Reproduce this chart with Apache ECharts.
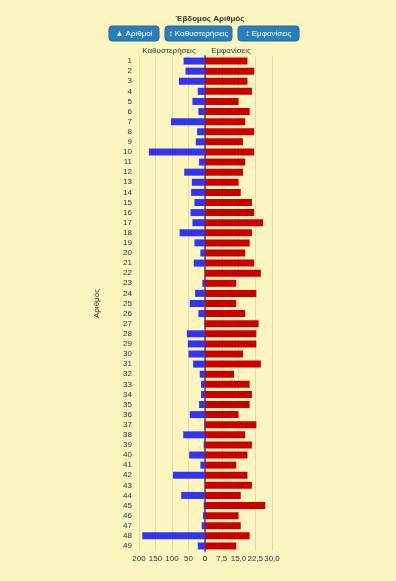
<!DOCTYPE html>
<html lang="el" style="height: 100%">
<head>
<meta charset="UTF-8">
<title>Έβδομος Αριθμός</title>
<script src="https://cdn.jsdelivr.net/npm/echarts@6/dist/echarts.min.js"></script>
</head>
<body style="height: 100%; margin: 0; background: #fcf5bf">
<div id="container" style="width: 396px; height: 581px"></div>
<script>
// data
var numbers = [];
for (var i = 1; i <= 49; i++) numbers.push(String(i));

var delays = [65, 59, 79, 22, 38, 20, 103, 24, 28, 170,
              18, 63, 40, 42, 32, 44, 38, 77, 32, 14,
              34, 0, 8, 30, 46, 20, 1, 55, 52, 50,
              36, 16, 12, 12, 18, 46, 1, 66, 4, 48,
              14, 97, 0, 72, 4, 6, 10, 190, 22];

var appearances = [19, 22, 19, 21, 15, 20, 18, 22, 17, 22,
                   18, 17, 15, 16, 21, 22, 26, 21, 20, 18,
                   22, 25, 14, 23, 14, 18, 24, 23, 23, 17,
                   25, 13, 20, 21, 20, 15, 23, 18, 21, 19,
                   14, 19, 21, 16, 27, 15, 16, 20, 14];

var buttonLabels = ['▲ Αριθμοί', '↕ Καθυστερήσεις', '↕ Εμφανίσεις'];

var font = 'Liberation Sans, Arial, sans-serif';
var gridColor = '#e2d9a6';

var chart = echarts.init(document.getElementById('container'));

// buttons at the top
var btnBoxes = [[109, 50], [165, 67], [238, 61]];
var graphics = [];
btnBoxes.forEach(function (b, i) {
    graphics.push({
        type: 'rect',
        shape: { x: b[0], y: 26, width: b[1], height: 15, r: 3 },
        style: { fill: '#2b7fb8', stroke: '#236a9c', lineWidth: 1 }
    });
    graphics.push({
        type: 'text',
        x: b[0] + b[1] / 2,
        y: 33.5,
        style: {
            text: buttonLabels[i], fill: '#fff', font: '8px ' + font,
            align: 'center', verticalAlign: 'middle'
        }
    });
});

var option = {
    backgroundColor: '#fcf5bf',
    animation: false,
    textStyle: { fontFamily: font },
    title: [{
        text: 'Έβδομος Αριθμός',
        left: 205, top: 10, textAlign: 'center',
        textStyle: { fontSize: 8, fontWeight: 'bold', color: '#333' }
    }, {
        text: 'Καθυστερήσεις',
        left: 164, top: 42, textAlign: 'center',
        textStyle: { fontSize: 8, fontWeight: 'normal', color: '#333' }
    }, {
        text: 'Εμφανίσεις',
        left: 226, top: 42, textAlign: 'center',
        textStyle: { fontSize: 8, fontWeight: 'normal', color: '#333' }
    }],
    graphic: graphics,
    grid: [
        { left: 139, top: 56, width: 66, height: 495 },
        { left: 205, top: 56, width: 67, height: 495 }
    ],
    xAxis: [{
        gridIndex: 0, type: 'value', inverse: true, min: 0, max: 200, interval: 50,
        axisLine: { show: false }, axisTick: { show: false },
        axisLabel: { fontSize: 8, color: '#333', margin: 4 },
        splitLine: { show: true, lineStyle: { color: gridColor } }
    }, {
        gridIndex: 1, type: 'value', min: 0, max: 30, interval: 7.5,
        axisLine: { show: false }, axisTick: { show: false },
        axisLabel: {
            fontSize: 8, color: '#333', margin: 4,
            formatter: function (v) { return v === 0 ? '0' : v.toFixed(1).replace('.', ','); }
        },
        splitLine: { show: true, lineStyle: { color: gridColor } }
    }],
    yAxis: [{
        gridIndex: 0, type: 'category', data: numbers, inverse: true,
        name: 'Αριθμός', nameLocation: 'middle', nameGap: 38,
        nameTextStyle: { fontSize: 8, color: '#333' },
        axisLine: { show: false }, axisTick: { show: false },
        axisLabel: { fontSize: 8, color: '#333', margin: 7, interval: 0 }
    }, {
        gridIndex: 1, type: 'category', data: numbers, inverse: true,
        axisLine: { show: true, lineStyle: { color: '#6e6e6e', width: 2 } },
        axisTick: { show: false }, axisLabel: { show: false }
    }],
    series: [{
        name: 'Καθυστερήσεις', type: 'bar',
        xAxisIndex: 0, yAxisIndex: 0,
        barWidth: 7,
        itemStyle: { color: '#3434ee' },
        data: delays
    }, {
        name: 'Εμφανίσεις', type: 'bar',
        xAxisIndex: 1, yAxisIndex: 1,
        barWidth: 7,
        itemStyle: { color: '#c80000' },
        data: appearances
    }]
};

chart.setOption(option);
</script>
</body>
</html>
